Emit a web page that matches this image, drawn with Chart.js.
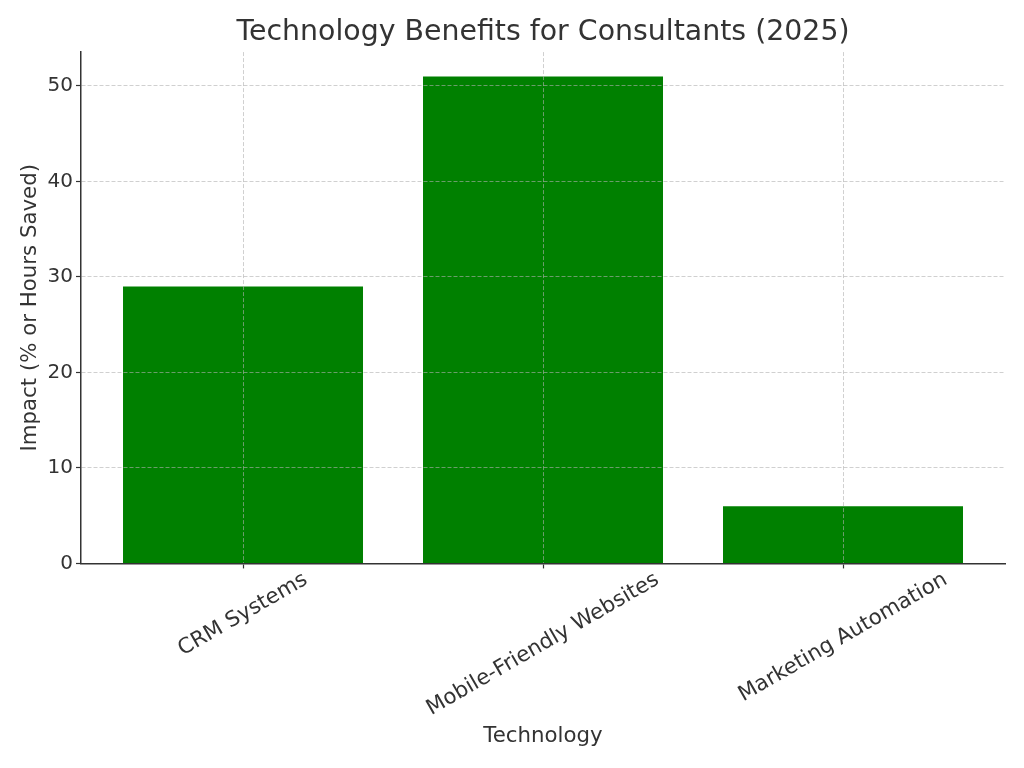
<!DOCTYPE html>
<html>
<head>
<meta charset="utf-8">
<script src="https://cdn.jsdelivr.net/npm/chart.js@4.4.1/dist/chart.umd.min.js"></script>
<style>
  html, body { margin: 0; padding: 0; background: #fff; }
  #wrap { width: 1024px; height: 768px; }
</style>
</head>
<body>
<div id="wrap"><canvas id="chart" width="1024" height="768"></canvas></div>
<script>
// data
const categories = ['CRM Systems', 'Mobile-Friendly Websites', 'Marketing Automation'];
const impact = [29, 51, 6];
const yTicks = [0, 10, 20, 30, 40, 50];

const FONT = "'DejaVu Sans', 'Liberation Sans', sans-serif";
const TEXT = '#333333';
const GRID = 'rgba(176,176,176,0.6)';
const LABEL_SIZE = 21.3;

// rotated category labels, centred under each tick like matplotlib does
const rotatedLabels = {
    id: 'rotatedLabels',
    afterLayout(chart) {
        // centre the title over the plot area, not the whole canvas
        if (chart.titleBlock) {
            chart.titleBlock.left = chart.chartArea.left;
            chart.titleBlock.right = chart.chartArea.right;
        }
    },
    afterDraw(chart) {
        const x = chart.scales.x;
        const ctx = chart.ctx;
        const rot = -30 * Math.PI / 180;
        ctx.save();
        ctx.font = LABEL_SIZE + 'px ' + FONT;
        ctx.fillStyle = TEXT;
        ctx.textAlign = 'center';
        ctx.textBaseline = 'middle';
        x.ticks.forEach(t => {
            const label = categories[t.value];
            if (label === undefined) return;
            const w = ctx.measureText(label).width;
            const h = 25;
            const bboxH = w * Math.sin(-rot) + h * Math.cos(rot);
            const px = x.getPixelForValue(t.value);
            const py = x.top + 4 + bboxH / 2;
            ctx.save();
            ctx.translate(px, py);
            ctx.rotate(rot);
            ctx.fillText(label, 0, 0);
            ctx.restore();
        });
        ctx.restore();
    }
};

const gridLines = {
    color: GRID,
    lineWidth: 1,
    offset: false,
    z: 1,
    drawTicks: true,
    tickLength: 5,
    tickColor: TEXT,
    tickWidth: 1.2,
    tickBorderDash: []
};

const chart = new Chart(document.getElementById('chart'), {
    type: 'bar',
    data: {
        datasets: [{
            data: impact.map((v, i) => ({ x: i, y: v })),
            backgroundColor: '#008000',
            borderWidth: 0,
            barPercentage: 1.0,
            categoryPercentage: 0.8
        }]
    },
    options: {
        responsive: false,
        animation: false,
        layout: { padding: { top: 0, right: 19, bottom: 0, left: 0 } },
        plugins: {
            legend: { display: false },
            tooltip: { enabled: false },
            title: {
                display: true,
                text: 'Technology Benefits for Consultants (2025)',
                color: TEXT,
                font: { family: FONT, size: 28.4, weight: 'normal' },
                padding: { top: 16, bottom: 2 }
            }
        },
        scales: {
            x: {
                type: 'linear',
                offset: false,
                min: -0.54,
                max: categories.length - 1 + 0.54,
                afterBuildTicks: s => {
                    s.ticks = categories.map((c, i) => ({ value: i }));
                },
                ticks: { display: false, z: 2 },
                grid: gridLines,
                border: { display: true, color: TEXT, width: 1.5, dash: [4, 2], z: 2 },
                title: {
                    display: true,
                    text: 'Technology',
                    color: TEXT,
                    font: { family: FONT, size: LABEL_SIZE },
                    padding: { top: 155, bottom: 19 }
                }
            },
            y: {
                min: 0,
                max: 53.55,
                afterBuildTicks: s => {
                    s.ticks = yTicks.map(v => ({ value: v }));
                },
                ticks: {
                    color: TEXT,
                    font: { family: FONT, size: 20 },
                    padding: 3,
                    z: 2
                },
                grid: gridLines,
                border: { display: true, color: TEXT, width: 1.5, dash: [4, 2], z: 2 },
                title: {
                    display: true,
                    text: 'Impact (% or Hours Saved)',
                    color: TEXT,
                    font: { family: FONT, size: LABEL_SIZE },
                    padding: { top: 18, bottom: 1 }
                }
            }
        }
    },
    plugins: [rotatedLabels]
});
</script>
</body>
</html>
